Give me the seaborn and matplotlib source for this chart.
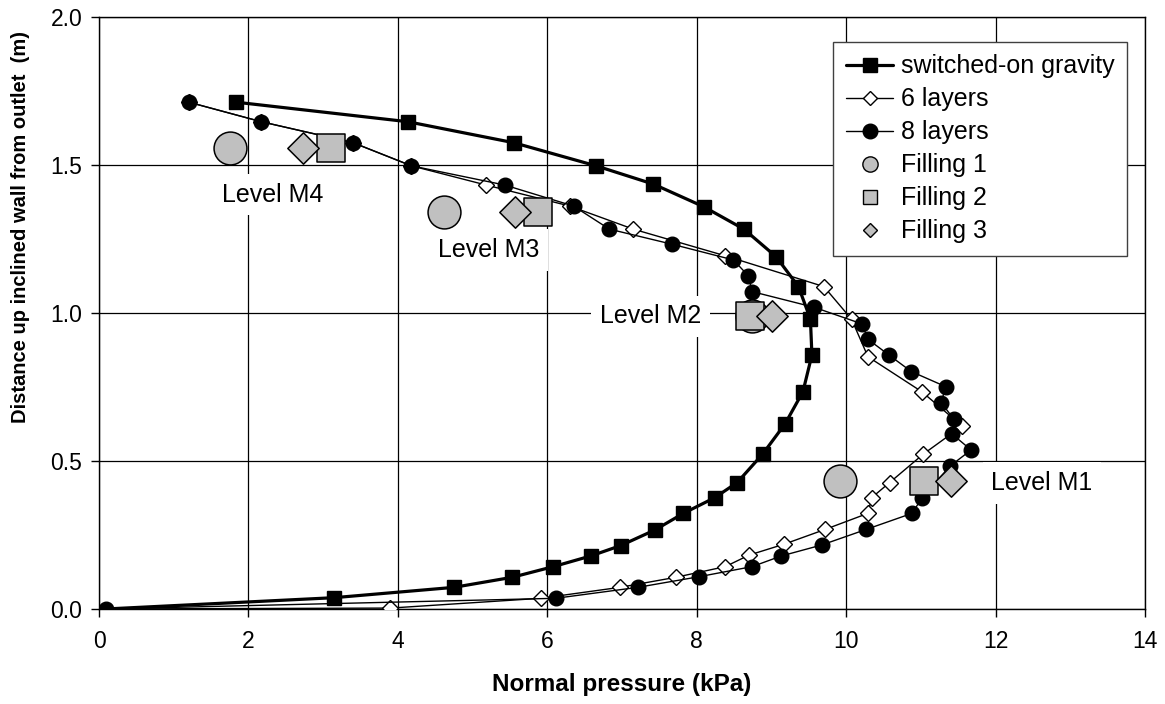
import matplotlib
matplotlib.use("Agg")
import matplotlib.pyplot as plt
import seaborn as sns
from matplotlib.lines import Line2D

# values (x = normal pressure in kPa, y = distance in m)
gravity_x = [0.1, 3.14, 4.75, 5.53, 6.08, 6.58, 6.98, 7.44, 7.82, 8.24, 8.54, 8.88, 9.18,
             9.42, 9.54, 9.52, 9.36, 9.06, 8.63, 8.09, 7.42, 6.65, 5.55, 4.13, 1.83]
gravity_y = [0.0, 0.038, 0.073, 0.107, 0.143, 0.179, 0.214, 0.267, 0.323, 0.376, 0.427, 0.523, 0.625,
             0.734, 0.858, 0.979, 1.089, 1.190, 1.283, 1.359, 1.435, 1.497, 1.575, 1.646, 1.712]

six_x = [0.1, 3.90, 5.91, 6.97, 7.72, 8.38, 8.70, 9.17, 9.72, 10.29, 10.34, 10.58, 11.03,
         11.55, 11.01, 10.29, 10.07, 9.70, 8.38, 7.15, 6.30, 5.18, 4.18, 3.40, 2.17, 1.20]
six_y = [0.0, 0.003, 0.036, 0.073, 0.107, 0.143, 0.182, 0.219, 0.269, 0.323, 0.376, 0.427, 0.523,
         0.618, 0.734, 0.852, 0.979, 1.089, 1.193, 1.283, 1.361, 1.432, 1.497, 1.575, 1.646, 1.712]

eight_x = [0.1, 6.11, 7.21, 8.03, 8.74, 9.13, 9.67, 10.27, 10.88, 11.01, 11.39, 11.67, 11.42,
           11.44, 11.27, 11.33, 10.87, 10.57, 10.29, 10.21, 9.57, 8.74, 8.69, 8.49, 7.67, 6.83,
           6.35, 5.43, 4.18, 3.40, 2.17, 1.20]
eight_y = [0.0, 0.036, 0.073, 0.109, 0.143, 0.179, 0.216, 0.269, 0.323, 0.374, 0.483, 0.537, 0.590,
           0.641, 0.697, 0.751, 0.802, 0.858, 0.911, 0.963, 1.019, 1.072, 1.125, 1.179, 1.232, 1.283,
           1.361, 1.432, 1.497, 1.575, 1.646, 1.712]

# measured fillings at the four levels M4, M3, M2, M1
fill_y = [1.556, 1.342, 0.99, 0.432]
fill1_x = [1.75, 4.62, 8.74, 9.92]
fill2_x = [3.11, 5.88, 8.71, 11.04]
fill3_x = [2.73, 5.56, 9.00, 11.40]

level_names = ["Level M4", "Level M3", "Level M2", "Level M1"]
level_x = [2.33, 5.21, 7.38, 12.62]
level_y = [1.40, 1.213, 0.988, 0.425]

x_ticks = [0, 2, 4, 6, 8, 10, 12, 14]
y_ticks = [0.0, 0.5, 1.0, 1.5, 2.0]
y_ticklabels = ["0.0", "0.5", "1.0", "1.5", "2.0"]

grey = "#C0C0C0"

sns.set_theme(style="white")
plt.rcParams["font.family"] = ["Liberation Sans", "DejaVu Sans"]
plt.rcParams["text.color"] = "black"

fig, ax = plt.subplots(figsize=(11.65, 7.04), dpi=100)
fig.subplots_adjust(left=0.085, right=0.983, bottom=0.135, top=0.976)

# curves
sns.lineplot(x=gravity_x, y=gravity_y, sort=False, estimator=None, color="black", linewidth=2.3,
             marker="s", markersize=10, markerfacecolor="black", markeredgecolor="black",
             markeredgewidth=1, markevery=list(range(1, len(gravity_x))), ax=ax, zorder=3)
sns.lineplot(x=six_x, y=six_y, sort=False, estimator=None, color="black", linewidth=1,
             marker="D", markersize=8.5, markerfacecolor="white", markeredgecolor="black",
             markeredgewidth=1, markevery=list(range(1, len(six_x))), ax=ax, zorder=4)
sns.lineplot(x=eight_x, y=eight_y, sort=False, estimator=None, color="black", linewidth=1,
             marker="o", markersize=10.5, markerfacecolor="black", markeredgecolor="black",
             markeredgewidth=1, ax=ax, zorder=5)

# fillings
sns.scatterplot(x=fill1_x, y=fill_y, marker="o", s=560, color=grey, edgecolor="black",
                linewidth=1.1, ax=ax, zorder=6)
sns.scatterplot(x=fill2_x, y=fill_y, marker="s", s=430, color=grey, edgecolor="black",
                linewidth=1.1, ax=ax, zorder=7)
sns.scatterplot(x=fill3_x, y=fill_y, marker="D", s=255, color=grey, edgecolor="black",
                linewidth=1.1, ax=ax, zorder=8)

for name, tx, ty in zip(level_names, level_x, level_y):
    ax.text(tx, ty, name, ha="center", va="center", fontsize=18, color="black", zorder=2,
            bbox=dict(boxstyle="square,pad=0.35", fc="white", ec="none"))

ax.set_xlim(0, 14)
ax.set_ylim(0, 2.0)
ax.set_xticks(x_ticks)
ax.set_yticks(y_ticks)
ax.set_yticklabels(y_ticklabels)
ax.set_axisbelow(True)
ax.grid(True, color="black", linewidth=0.9)
for sp in ax.spines.values():
    sp.set_visible(True)
    sp.set_color("black")
    sp.set_linewidth(1)
ax.tick_params(bottom=True, left=True, direction="out", length=6, width=1, colors="black",
               labelsize=16.5)
ax.tick_params(axis="x", pad=9)
ax.tick_params(axis="y", pad=6)
ax.set_xlabel("")
ax.set_ylabel("")

fig.text(0.534, 0.027, "Normal pressure (kPa)", ha="center", va="center", fontsize=17.5,
         fontweight="bold", color="black")
fig.text(0.0176, 0.678, "Distance up inclined wall from outlet  (m)", ha="center", va="center",
         rotation=90, fontsize=14.5, fontweight="bold", color="black")

handles = [
    Line2D([], [], color="black", lw=2.3, marker="s", ms=9.5, mfc="black", mec="black",
           label="switched-on gravity"),
    Line2D([], [], color="black", lw=1, marker="D", ms=7.5, mfc="white", mec="black", label="6 layers"),
    Line2D([], [], color="black", lw=1, marker="o", ms=10.5, mfc="black", mec="black", label="8 layers"),
    Line2D([], [], ls="None", marker="o", ms=11, mfc=grey, mec="black", label="Filling 1"),
    Line2D([], [], ls="None", marker="s", ms=10, mfc=grey, mec="black", label="Filling 2"),
    Line2D([], [], ls="None", marker="D", ms=7.5, mfc=grey, mec="black", label="Filling 3"),
]
leg = ax.legend(handles=handles, loc="upper right", bbox_to_anchor=(0.9825, 0.958), fontsize=18,
                handlelength=1.9, handletextpad=0.3, labelspacing=0.36, borderpad=0.5,
                borderaxespad=0, fancybox=False, framealpha=1, edgecolor="#404040")
leg.get_frame().set_linewidth(1)
for t in leg.get_texts():
    t.set_color("black")
leg.set_zorder(10)

fig.savefig("out.png", dpi=100)
